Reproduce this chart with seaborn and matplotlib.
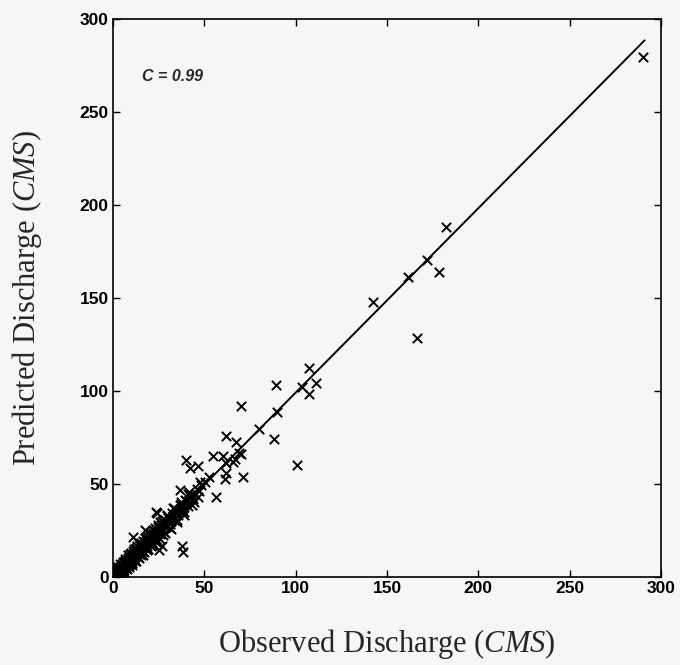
import matplotlib
matplotlib.use("Agg")
import matplotlib.pyplot as plt
import seaborn as sns
import pandas as pd

# ---- data ----
band_obs_a = [0.5,0.8,1.0,1.2,1.5,1.7,2.0,2.2,2.5,2.8,3.0,3.3,3.6,4.0,4.2,4.5,4.9,5.2,5.5,5.9,
              6.2,6.6,7.0,7.3,7.7,8.1,8.4,8.8,9.2,9.6,10.0,10.4,10.9,11.3,11.8,12.2,12.7,13.1,13.6,14.0,
              14.6,15.1,15.6,16.2,16.8,17.3,17.9,18.5,19.1,19.8,20.4,21.1,21.8,22.5,23.2,24.0,24.8,25.6,26.4,27.3,
              28.2,29.1,30.0,31.0,32.1,33.2,34.3,35.5,36.8,38.0,39.4,40.8,42.3,44.0,45.8]
band_pred_a = [1.2,0.3,2.1,0.9,1.8,0.6,2.9,1.4,3.1,1.9,4.2,2.5,3.9,2.8,5.6,3.7,6.1,4.0,5.9,4.6,
               7.8,5.3,8.1,6.0,9.4,6.9,9.0,7.2,11.0,8.3,10.9,8.7,12.6,9.8,12.9,10.6,14.8,11.4,14.2,12.3,
               16.9,13.2,16.4,14.1,18.7,15.6,19.1,16.4,21.3,17.9,21.8,18.6,23.9,20.1,24.6,21.9,27.0,23.2,28.1,24.9,
               30.4,26.8,31.9,28.7,34.2,30.6,35.9,33.1,38.7,35.4,41.2,38.3,44.0,41.8,47.3]

band_obs_b = [0.3,0.9,1.4,2.1,2.7,3.4,3.9,4.7,5.3,6.0,6.8,7.5,8.2,9.0,9.8,10.6,11.5,12.4,13.3,14.3,
              15.2,16.4,17.6,18.8,20.0,21.4,22.8,24.2,25.9,27.6,29.4,31.3,33.0,35.0,37.2,39.0,41.5,43.0,46.5,48.0]
band_pred_b = [2.8,3.5,4.3,0.2,5.2,1.0,6.8,1.9,8.2,2.9,9.9,4.1,11.6,5.4,13.1,6.7,14.9,8.6,16.8,10.2,
               18.4,12.0,20.9,14.5,23.6,17.0,26.4,19.8,29.6,22.7,32.8,26.1,36.9,29.8,40.3,33.5,45.6,38.9,43.2,49.6]

band_obs_c = [0.2,0.6,1.1,1.6,2.3,2.9,3.5,4.1,4.8,5.6,6.4,7.1,7.9,8.6,9.4,10.2,11.0,11.9,12.9,13.8,
              14.8,15.9,17.0,18.2,19.4,20.7,22.0,23.6,25.2,26.9,28.7,30.5,32.6,34.8,37.5,40.1,43.4,47.2,50.3,52.8]
band_pred_c = [0.6,0.9,1.3,1.1,2.4,3.4,3.0,4.4,4.9,5.2,6.9,7.4,8.0,8.9,9.7,10.1,11.5,12.0,13.2,13.5,
               15.1,16.2,17.4,18.0,19.9,20.4,22.6,23.1,25.8,26.5,29.2,30.1,33.0,34.4,37.0,40.6,43.1,46.0,51.2,53.5]

band_obs_d = [1.8,2.6,3.7,4.4,5.1,5.8,6.5,7.2,8.0,8.7,9.5,10.3,11.2,12.0,12.8,13.7,14.5,15.4,16.3,17.2,
              18.1,19.0,20.0,21.0,22.1,23.3,24.5,25.7,27.0,28.4,29.8,31.5,33.4,35.3,37.0,39.0,41.0,44.6]
band_pred_d = [3.9,0.8,5.4,2.2,7.1,3.6,8.6,4.8,10.3,6.2,12.2,7.5,13.9,8.8,15.7,10.6,17.8,11.9,19.6,13.4,
               21.0,14.8,23.0,16.7,25.1,18.6,28.0,20.6,30.2,23.4,33.1,25.9,37.2,30.6,39.2,34.8,44.4,40.2]

outlier_obs = [11.1,17.5,23.6,24.3,25.4,26.7,37.6,38.5,36.5,40.0,42.2,46.8,47.7,54.6,56.4,60.1,61.9,61.4,62.0,
               65.8,66.8,69.2,67.4,61.9,69.9,71.0,70.1,80.2,87.9,89.7,89.1,100.6,103.7,107.4,107.2,111.2,
               142.3,161.3,171.9,178.6,182.5,166.4,290.0]
outlier_pred = [21.3,25.2,35.1,34.6,14.5,16.7,16.7,13.4,46.8,62.7,58.8,59.9,50.9,64.8,43.1,65.0,61.5,52.5,56.0,
                62.0,63.7,66.5,72.5,75.6,66.0,53.9,91.8,79.4,74.0,88.6,103.0,60.2,102.0,98.4,112.2,104.1,
                147.6,161.5,170.4,164.2,188.3,128.3,279.6]

line_x = [0.0, 291.0]
line_y = [0.0, 288.5]

x_ticks = [0, 50, 100, 150, 200, 250, 300]
y_ticks = [0, 50, 100, 150, 200, 250, 300]

df = pd.DataFrame({
    "obs": band_obs_a + band_obs_b + band_obs_c + band_obs_d + outlier_obs,
    "pred": band_pred_a + band_pred_b + band_pred_c + band_pred_d + outlier_pred,
})
line_df = pd.DataFrame({"x": line_x, "y": line_y})

sns.set_theme(style="ticks")
plt.rcParams["mathtext.fontset"] = "custom"
plt.rcParams["mathtext.rm"] = "Liberation Serif"
plt.rcParams["mathtext.it"] = "Liberation Serif:italic"

bg = "#f6f6f4"
fig = plt.figure(figsize=(6.8, 6.65), dpi=100, facecolor=bg)
ax = fig.add_axes([113/680, 1 - 577/665, (661 - 113)/680, (577 - 19)/665])
ax.set_facecolor(bg)

sns.lineplot(data=line_df, x="x", y="y", ax=ax, color="black", linewidth=1.4, zorder=2)
sns.scatterplot(data=df, x="obs", y="pred", ax=ax, marker="x", s=45, color="black",
                linewidth=1.4, zorder=3)

ax.set_xlim(0, 300)
ax.set_ylim(0, 300)
ax.set_xticks(x_ticks)
ax.set_yticks(y_ticks)
tick_font = dict(family="Liberation Sans", weight="bold", size=12.5)
ax.set_xticklabels([str(v) for v in x_ticks], fontdict=tick_font)
ax.set_yticklabels([str(v) for v in y_ticks], fontdict=tick_font)
ax.tick_params(direction="in", length=5, width=1.0, top=True, right=True, color="black",
               pad=3, labelcolor="black")
for sp in ax.spines.values():
    sp.set_visible(True)
    sp.set_linewidth(1.2)
    sp.set_color("black")

ax.set_xlabel(r"Observed Discharge ($\mathit{CMS}$)", fontsize=22, family="Liberation Serif")
ax.set_ylabel(r"Predicted Discharge ($\mathit{CMS}$)", fontsize=22, family="Liberation Serif")
ax.xaxis.set_label_coords(0.5, -0.09)
ax.yaxis.set_label_coords(-0.125, 0.5)

ax.text(16, 269, "C = 0.99", fontsize=11.5, family="Liberation Sans", weight="bold",
        style="italic", va="center", ha="left")

fig.savefig("out.png", dpi=100, facecolor=bg)
